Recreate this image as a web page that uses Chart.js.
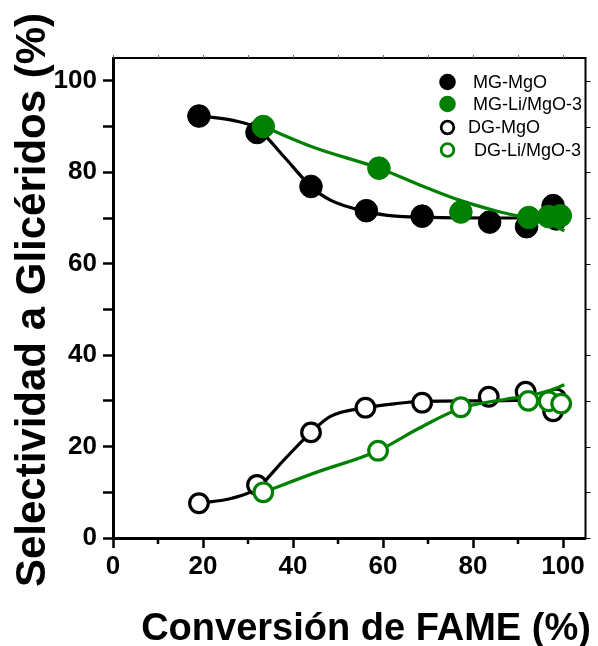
<!DOCTYPE html>
<html>
<head>
<meta charset="utf-8">
<script src="https://cdn.jsdelivr.net/npm/chart.js@4.4.1/dist/chart.umd.min.js"></script>
<style>
  html, body { margin: 0; padding: 0; background: #fff; }
  #wrap { width: 598px; height: 646px; }
</style>
</head>
<body>
<div id="wrap"><canvas id="c" width="598" height="646"></canvas></div>
<script>
// ---- Data ----
const xTickValues = [0, 10, 20, 30, 40, 50, 60, 70, 80, 90, 100];
const yTickValues = [0, 10, 20, 30, 40, 50, 60, 70, 80, 90, 100];

// measured points (markers)
const mgMgO_x = [19.1, 32.0, 44.0, 56.3, 68.7, 83.7, 91.9, 97.8, 98.5];
const mgMgO_y = [92.3, 88.7, 76.9, 71.6, 70.4, 69.1, 68.1, 72.7, 69.8];
const mgLi_x  = [33.4, 59.1, 77.3, 92.4, 96.8, 99.4];
const mgLi_y  = [90.0, 80.9, 71.3, 70.1, 70.3, 70.5];
const dgMgO_x = [19.1, 32.0, 44.0, 56.1, 68.7, 83.5, 91.7, 97.8, 98.5];
const dgMgO_y = [7.6, 11.6, 23.1, 28.5, 29.6, 30.9, 32.0, 27.7, 30.5];
const dgLi_x  = [33.4, 58.9, 77.3, 92.3, 96.8, 99.6];
const dgLi_y  = [10.0, 19.1, 28.6, 30.0, 29.9, 29.4];

// smooth guide curves, vertices
const mgMgOFit_x = [19.1, 26.4, 32.0, 38.0, 44.0, 48.3, 56.3, 62.8, 68.7, 83.7, 100.0];
const mgMgOFit_y = [92.3, 91.4, 89.6, 83.4, 76.9, 73.9, 71.4, 70.4, 70.2, 70.0, 70.0];
const dgMgOFit_x = [19.1, 26.4, 32.0, 38.0, 44.0, 48.3, 56.1, 62.8, 68.7, 83.5, 100.0];
const dgMgOFit_y = [7.6, 8.7, 10.9, 17.1, 23.1, 26.6, 28.5, 29.4, 29.9, 30.0, 30.3];
const mgLiFit_x  = [33.4, 45.0, 59.1, 70.0, 77.3, 85.0, 92.4, 96.8, 100.3];
const mgLiFit_y  = [90.0, 85.3, 80.9, 76.5, 73.8, 71.6, 69.9, 68.8, 67.2];
const dgLiFit_x  = [33.4, 45.0, 58.9, 68.0, 77.3, 87.0, 92.3, 96.8, 100.3];
const dgLiFit_y  = [10.0, 14.3, 19.1, 24.0, 28.4, 30.3, 31.1, 32.2, 33.5];

const legendLabels = ['MG-MgO', 'MG-Li/MgO-3', 'DG-MgO', 'DG-Li/MgO-3'];
const xTitle = 'Conversión de FAME (%)';
const yTitle = 'Selectividad a Glicéridos (%)';

const GREEN = '#008000';
const BLACK = '#000000';
const FONT = '"Liberation Sans", Arial, Helvetica, sans-serif';

const pts = (xs, ys) => xs.map((x, i) => ({ x: x, y: ys[i] }));

function lineDs(xs, ys, color, order) {
  return {
    data: pts(xs, ys), showLine: true, borderColor: color, borderWidth: 3.2,
    pointRadius: 0, pointHoverRadius: 0, cubicInterpolationMode: 'monotone',
    fill: false, order: order, clip: false
  };
}
function markerDs(xs, ys, color, filled, order) {
  return {
    data: pts(xs, ys), showLine: false,
    pointRadius: filled ? 11.3 : 9.3,
    pointHoverRadius: filled ? 11.3 : 9.3,
    pointBorderWidth: filled ? 1 : 3.2,
    pointBackgroundColor: filled ? color : '#ffffff',
    pointBorderColor: color,
    backgroundColor: filled ? color : '#ffffff',
    borderColor: color,
    order: order, clip: false
  };
}

const datasets = [
  markerDs(mgLi_x, mgLi_y, GREEN, true, 0),
  markerDs(dgLi_x, dgLi_y, GREEN, false, 0),
  lineDs(mgLiFit_x, mgLiFit_y, GREEN, 1),
  lineDs(dgLiFit_x, dgLiFit_y, GREEN, 1),
  markerDs(mgMgO_x, mgMgO_y, BLACK, true, 2),
  markerDs(dgMgO_x, dgMgO_y, BLACK, false, 2),
  lineDs(mgMgOFit_x, mgMgOFit_y, BLACK, 3),
  lineDs(dgMgOFit_x, dgMgOFit_y, BLACK, 3)
];

const legendItems = [
  { label: legendLabels[0], color: BLACK, filled: true },
  { label: legendLabels[1], color: GREEN, filled: true },
  { label: legendLabels[2], color: BLACK, filled: false },
  { label: legendLabels[3], color: GREEN, filled: false }
];

const decor = {
  id: 'decor',
  afterDraw(chart) {
    const ctx = chart.ctx;
    const a = chart.chartArea;
    const xs = chart.scales.x, ys = chart.scales.y;
    ctx.save();
    // top & right frame
    ctx.strokeStyle = BLACK;
    ctx.lineWidth = 2;
    ctx.beginPath();
    ctx.moveTo(a.left - 1, a.top);
    ctx.lineTo(a.right, a.top);
    ctx.lineTo(a.right, a.bottom + 1);
    ctx.stroke();
    // small ticks on top and right
    ctx.lineWidth = 1;
    ctx.strokeStyle = '#666';
    xTickValues.forEach(v => {
      const px = Math.round(xs.getPixelForValue(v)) + 0.5;
      ctx.beginPath(); ctx.moveTo(px, a.top); ctx.lineTo(px, a.top - 3); ctx.stroke();
    });
    ctx.strokeStyle = BLACK;
    yTickValues.forEach(v => {
      const py = Math.round(ys.getPixelForValue(v)) + 0.5;
      ctx.beginPath(); ctx.moveTo(a.right, py); ctx.lineTo(a.right + 5, py); ctx.stroke();
    });
    // minor x ticks (shorter)
    ctx.lineWidth = 2.5;
    xTickValues.filter(v => v % 20 !== 0).forEach(v => {
      const px = xs.getPixelForValue(v);
      ctx.beginPath(); ctx.moveTo(px, a.bottom); ctx.lineTo(px, a.bottom + 6); ctx.stroke();
    });
    // axis titles
    ctx.fillStyle = BLACK;
    ctx.font = 'bold 38px ' + FONT;
    ctx.textAlign = 'center';
    ctx.textBaseline = 'alphabetic';
    ctx.fillText(xTitle, 366, 640);
    ctx.save();
    ctx.translate(45, 300);
    ctx.rotate(-Math.PI / 2);
    ctx.font = 'bold 42px ' + FONT;
    ctx.fillText(yTitle, 0, 0);
    ctx.restore();
    // legend
    const rows = [82, 104, 127.5, 150];
    const textX = [473, 473, 468, 474];
    ctx.font = '18px ' + FONT;
    ctx.textAlign = 'left';
    ctx.textBaseline = 'middle';
    legendItems.forEach((it, i) => {
      const cy = rows[i], cx = 447.5;
      ctx.beginPath();
      if (it.filled) {
        ctx.arc(cx, cy, 8.3, 0, Math.PI * 2);
        ctx.fillStyle = it.color; ctx.fill();
      } else {
        ctx.arc(cx, cy, 6.3, 0, Math.PI * 2);
        ctx.fillStyle = '#fff'; ctx.fill();
        ctx.lineWidth = 2.8; ctx.strokeStyle = it.color; ctx.stroke();
      }
      ctx.fillStyle = BLACK;
      ctx.fillText(it.label, textX[i], cy + 1);
    });
    ctx.restore();
  }
};

new Chart(document.getElementById('c'), {
  type: 'scatter',
  data: { datasets: datasets },
  options: {
    responsive: false,
    animation: false,
    events: [],
    layout: { padding: { left: 0, top: 58, right: 6, bottom: 0 } },
    plugins: { legend: { display: false }, tooltip: { enabled: false } },
    scales: {
      x: {
        type: 'linear', min: 0, max: 105,
        afterBuildTicks: s => { s.ticks = xTickValues.map(v => ({ value: v })); },
        afterFit: s => { s.height = 108; },
        border: { display: true, color: BLACK, width: 3 },
        grid: {
          display: true, drawOnChartArea: false, drawTicks: true, tickLength: 10,
          tickWidth: 2.5,
          tickColor: c => (c.tick && c.tick.value % 20 === 0) ? BLACK : 'rgba(0,0,0,0)'
        },
        ticks: {
          color: BLACK, padding: 3, maxRotation: 0, autoSkip: false,
          font: { family: FONT, size: 26, weight: 'bold' },
          callback: v => (v % 20 === 0 ? String(v) : '')
        },
        title: { display: false }
      },
      y: {
        type: 'linear', min: 0, max: 105,
        afterBuildTicks: s => { s.ticks = yTickValues.map(v => ({ value: v })); },
        afterFit: s => { s.width = 113; },
        border: { display: true, color: BLACK, width: 3 },
        grid: {
          display: true, drawOnChartArea: false, drawTicks: true, tickLength: 10,
          tickWidth: 2.5, tickColor: BLACK
        },
        ticks: {
          color: BLACK, padding: 6, autoSkip: false,
          font: { family: FONT, size: 26, weight: 'bold' },
          callback: v => (v % 20 === 0 ? String(v) : '')
        },
        title: { display: false }
      }
    }
  },
  plugins: [decor]
});
</script>
</body>
</html>
